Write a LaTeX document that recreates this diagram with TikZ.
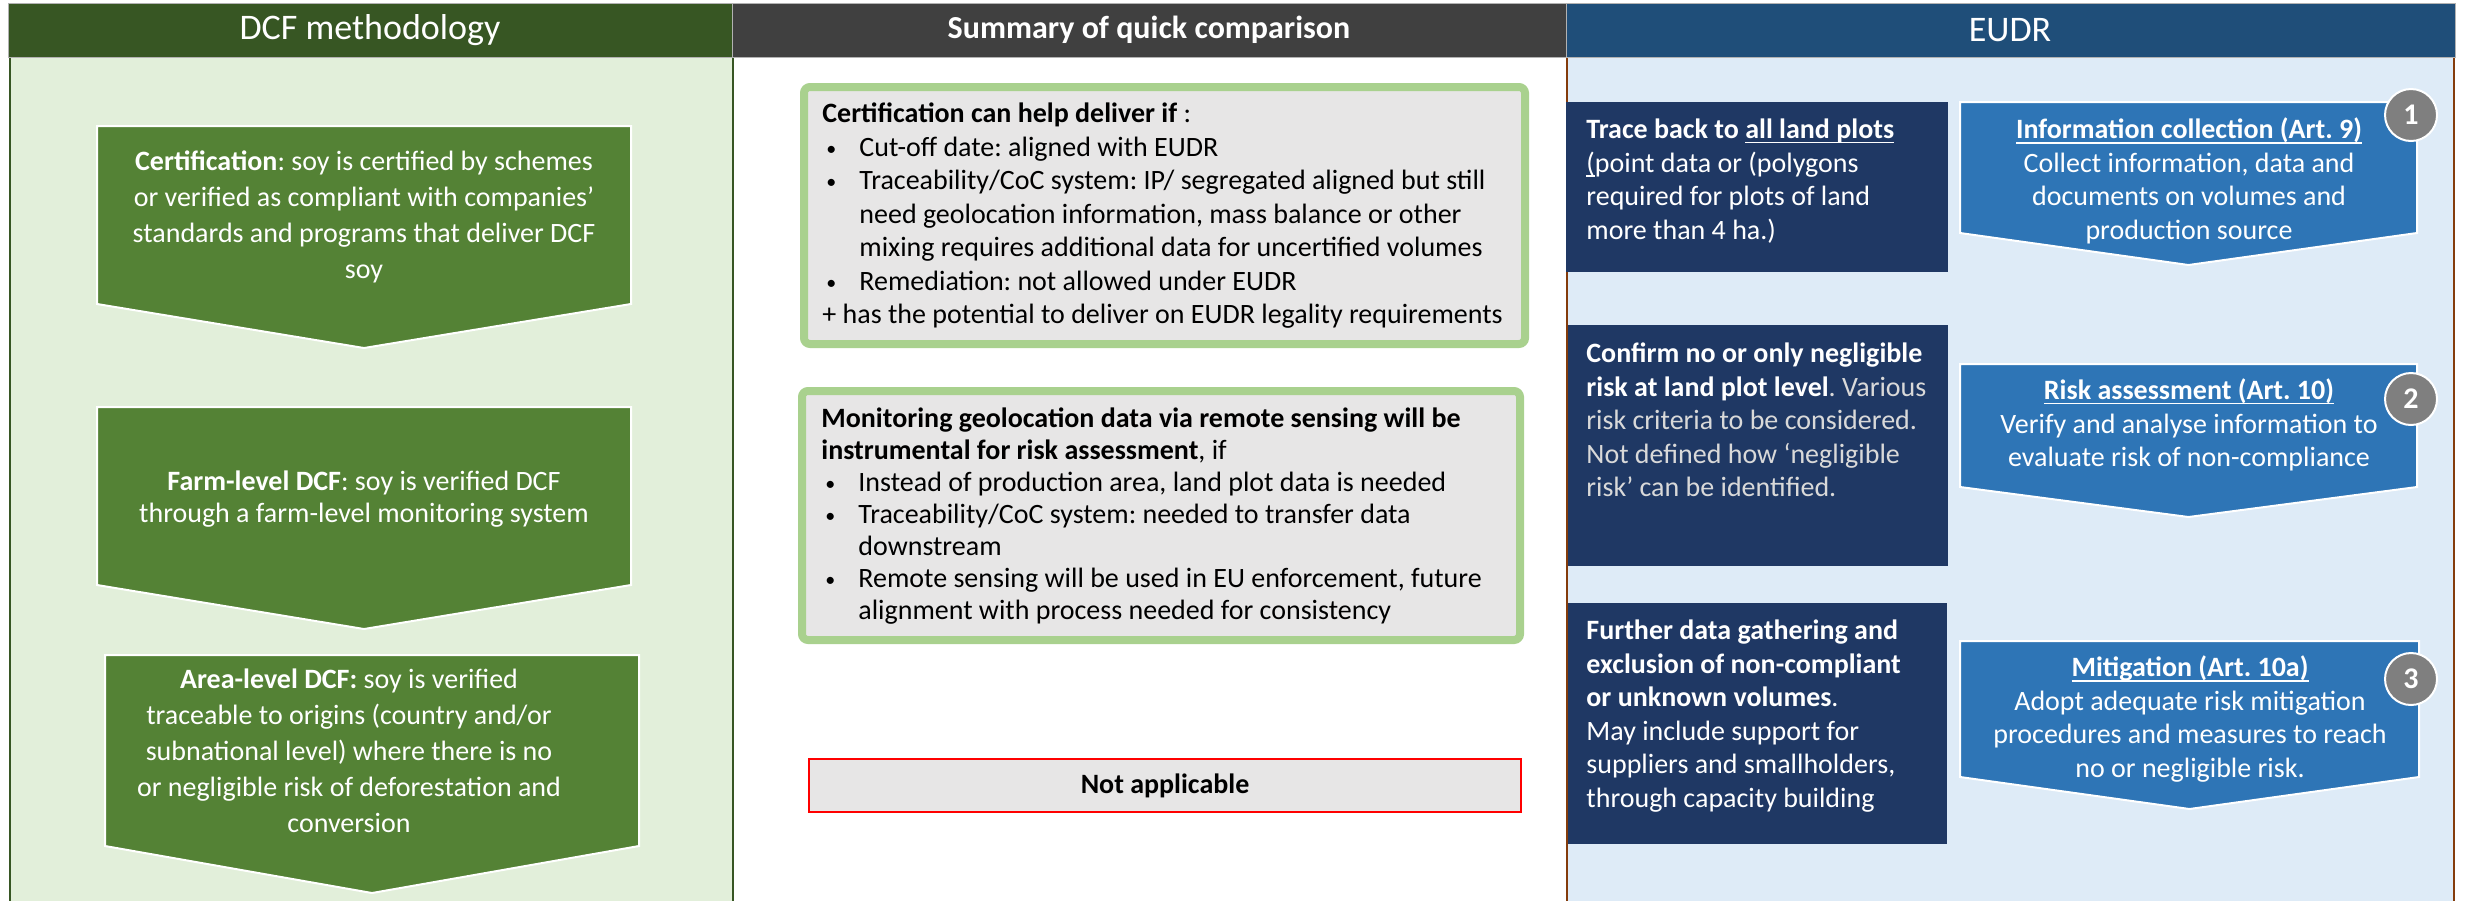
\documentclass[tikz,border=0pt]{standalone}
\usepackage{fontspec}
\setmainfont{Carlito}
\frenchspacing

\definecolor{dcfdark}{HTML}{375623}
\definecolor{dcfbg}{HTML}{E2EFDA}
\definecolor{dcfgreen}{HTML}{548235}
\definecolor{sumdark}{HTML}{404040}
\definecolor{boxgray}{HTML}{E7E6E6}
\definecolor{boxgreen}{HTML}{A9D18E}
\definecolor{eudrdark}{HTML}{1F4E79}
\definecolor{eudrbg}{HTML}{DEEBF7}
\definecolor{eudrline}{HTML}{843C0C}
\definecolor{navy}{HTML}{1F3864}
\definecolor{stepblue}{HTML}{2E75B6}
\definecolor{numgray}{HTML}{7F7F7F}
\definecolor{paletxt}{HTML}{D9D9D9}

% bullets with hanging indent
\newcommand\itembul{\makebox[18.5pt][l]{\hspace{2pt}\raisebox{0.6pt}{\fontsize{10}{10}\selectfont\textbullet}}}
\newcommand\itemind{\hspace*{18.5pt}}
% underline close to the baseline
\newlength\ulwidth
\newcommand\ulbar[1]{\settowidth\ulwidth{#1}\rlap{\rule[-2.4pt]{\ulwidth}{0.9pt}}#1}

\begin{document}
\begin{tikzpicture}[x=0.5pt, y=-0.5pt,
	txt/.style={font=\fontsize{14}{17}\selectfont, inner sep=0pt},
	head/.style={text=white, inner sep=0pt},
	pent/.style={draw=white, line width=1pt},
	cmpbox/.style={fill=boxgray, draw=boxgreen, line width=4pt, rounded corners=3pt},
	num/.style={circle, fill=numgray, draw=white, line width=1pt, minimum size=26pt,
		inner sep=0pt, text=white, font=\fontsize{15}{18}\selectfont\bfseries}]
	\useasboundingbox (0,0) rectangle (2466,901);

	% column bodies
	\fill[dcfbg] (9,57) rectangle (733,901);
	\fill[eudrbg] (1566,57) rectangle (2455,901);
	\draw[dcfdark, line width=1.2pt] (10,57) -- (10,901) (733,57) -- (733,901);
	\draw[eudrline, line width=1.2pt] (1567,57) -- (1567,901) (2454,57) -- (2454,901);

	% headers
	\filldraw[fill=dcfdark, draw=gray!60, line width=0.4pt] (8,3) rectangle (732,57);
	\filldraw[fill=sumdark, draw=gray!60, line width=0.4pt] (732,3) rectangle (1566,57);
	\filldraw[fill=eudrdark, draw=gray!60, line width=0.4pt] (1566,3) rectangle (2455,57);
	\node[head, font=\fontsize{18}{22}\selectfont] (dcfhead) at (370,30) {DCF methodology};
	\node[head, font=\fontsize{16}{20}\selectfont\bfseries] (sumhead) at (1149,30) {Summary of quick comparison};
	\node[head, font=\fontsize{18}{22}\selectfont] (eudrhead) at (2010,30) {EUDR};

	% DCF chevrons
	\foreach \xa/\xb/\ya/\yb/\yc in {97/631/126/304/348, 97/631/407/585/629, 105/639/655/846/893}
		\filldraw[pent, fill=dcfgreen] (\xa,\ya) -- (\xb,\ya) -- (\xb,\yb)
			-- ({(\xa+\xb)/2},\yc) -- (\xa,\yb) -- cycle;
	\node[txt, text=white, align=center, font=\fontsize{14}{18}\selectfont] (cert) at (364,217)
		{\textbf{Certification}: soy is certified by schemes\\
		or verified as compliant with companies’\\
		standards and programs that deliver DCF\\
		soy};
	\node[txt, text=white, align=center, font=\fontsize{14}{16}\selectfont] (farm) at (364,499)
		{\textbf{Farm-level DCF}: soy is verified DCF\\
		through a farm-level monitoring system};
	\node[txt, text=white, align=center, font=\fontsize{14}{18}\selectfont] (area) at (349,751)
		{\textbf{Area-level DCF:} soy is verified\\
		traceable to origins (country and/or\\
		subnational level) where there is no\\
		or negligible risk of deforestation and\\
		conversion};

	% comparison boxes
	\filldraw[cmpbox] (804,87) rectangle (1525,344);
	\filldraw[cmpbox] (802,391) rectangle (1520,640);
	\filldraw[fill=boxgray, draw=red, line width=1pt] (809,759) rectangle (1521,812);
	\node[txt, anchor=west, align=left, font=\fontsize{14}{16.75}\selectfont] (certif) at (822,216)
		{\textbf{Certification can help deliver if} :\\
		\itembul Cut-off date: aligned with EUDR\\
		\itembul Traceability/CoC system: IP/ segregated aligned but still\\
		\itemind need geolocation information, mass balance or other\\
		\itemind mixing requires additional data for uncertified volumes\\
		\itembul Remediation: not allowed under EUDR\\
		+ has the potential to deliver on EUDR legality requirements};
	\node[txt, anchor=west, align=left, font=\fontsize{14}{16}\selectfont] (monit) at (821,516)
		{\textbf{Monitoring geolocation data via remote sensing will be}\\
		\textbf{instrumental for risk assessment}, if\\
		\itembul Instead of production area, land plot data is needed\\
		\itembul Traceability/CoC system: needed to transfer data\\
		\itemind downstream\\
		\itembul Remote sensing will be used in EU enforcement, future\\
		\itemind alignment with process needed for consistency};
	\node[txt, font=\fontsize{14}{17}\selectfont\bfseries] (notapp) at (1165,786) {Not applicable};

	% EUDR requirements
	\fill[navy] (1566,102) rectangle (1948,272);
	\fill[navy] (1568,325) rectangle (1948,566);
	\fill[navy] (1568,603) rectangle (1947,844);
	\node[txt, anchor=west, align=left, text=white, font=\fontsize{14}{16.75}\selectfont] (trace) at (1586,181)
		{\textbf{Trace back to \ulbar{all land plots}}\\
		\ulbar{(}point data or (polygons\\
		required for plots of land\\
		more than 4 ha.)};
	\node[txt, anchor=west, align=left, text=paletxt, font=\fontsize{14}{16.75}\selectfont] (confirm) at (1586,420)
		{\textcolor{white}{\textbf{Confirm no or only negligible}}\\
		\textcolor{white}{\textbf{risk at land plot level}}. Various\\
		risk criteria to be considered.\\
		Not defined how ‘negligible\\
		risk’ can be identified.};
	\node[txt, anchor=west, align=left, text=white, font=\fontsize{14}{16.75}\selectfont] (further) at (1586,716)
		{\textbf{Further data gathering and}\\
		\textbf{exclusion of non-compliant}\\
		\textbf{or unknown volumes}.\\
		May include support for\\
		suppliers and smallholders,\\
		through capacity building};

	% EUDR steps
	\foreach \xa/\xb/\ya/\yb/\yc in {1960/2417/102/233/265, 1960/2417/364/487/517, 1960/2419/641/777/809}
		\filldraw[pent, fill=stepblue] (\xa,\ya) -- (\xb,\ya) -- (\xb,\yb)
			-- ({(\xa+\xb)/2},\yc) -- (\xa,\yb) -- cycle;
	\node[txt, align=center, text=white, font=\fontsize{14}{16.75}\selectfont] (info) at (2189,181)
		{\textbf{\ulbar{Information collection (Art. 9)}}\\
		Collect information, data and\\
		documents on volumes and\\
		production source};
	\node[txt, align=center, text=white, font=\fontsize{14}{16.75}\selectfont] (risk) at (2189,425)
		{\textbf{\ulbar{Risk assessment (Art. 10)}}\\
		Verify and analyse information to\\
		evaluate risk of non-compliance};
	\node[txt, align=center, text=white, font=\fontsize{14}{16.75}\selectfont] (mitig) at (2190,719)
		{\textbf{\ulbar{Mitigation (Art. 10a)}}\\
		Adopt adequate risk mitigation\\
		procedures and measures to reach\\
		no or negligible risk.};
	\node[num] (n1) at (2411,115) {1};
	\node[num] (n2) at (2411,399) {2};
	\node[num] (n3) at (2411,679) {3};
\end{tikzpicture}
\end{document}
